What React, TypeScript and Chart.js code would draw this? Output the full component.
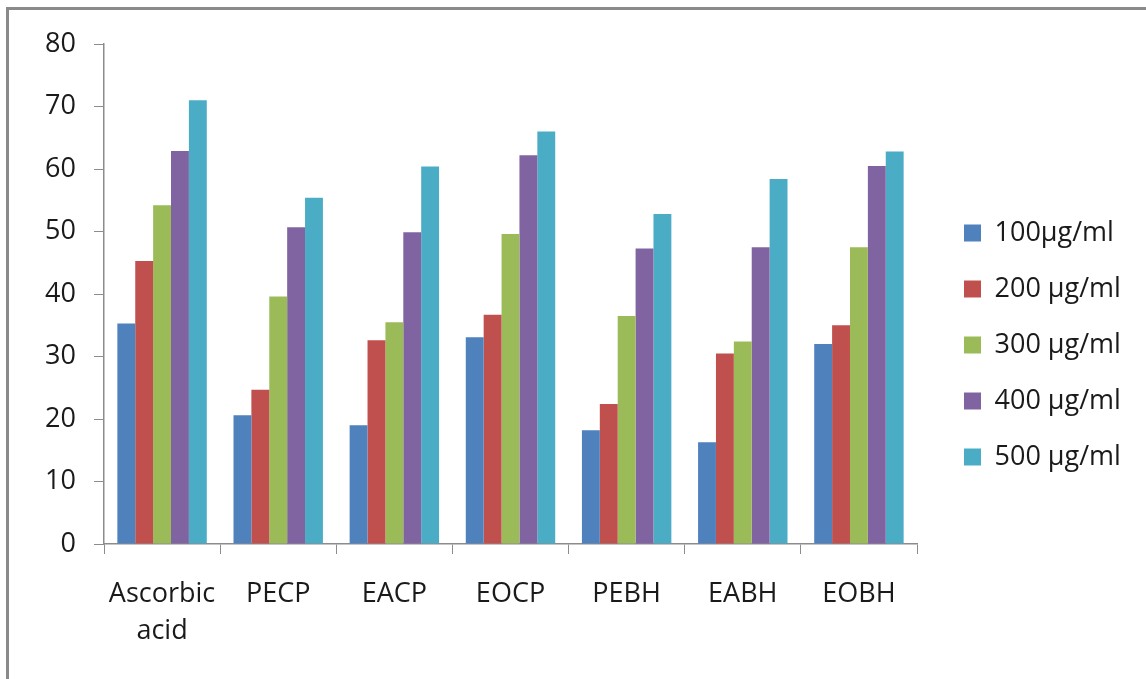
// Bar chart: percentage activity by extract and concentration (Excel 2007 look).

import { useEffect, useRef } from 'react';
import { Chart, registerables } from 'chart.js';
import type { ChartConfiguration } from 'chart.js';

Chart.register(...registerables);

const categories = [['Ascorbic', 'acid'], 'PECP', 'EACP', 'EOCP', 'PEBH', 'EABH', 'EOBH'];
const seriesNames = ['100µg/ml', '200 µg/ml', '300 µg/ml', '400 µg/ml', '500 µg/ml'];
const seriesColors = ['#4F81BD', '#C0504D', '#9BBB59', '#8064A2', '#4BACC6'];

const conc100 = [35.3, 20.6, 19.0, 33.1, 18.2, 16.3, 32.0];
const conc200 = [45.3, 24.7, 32.6, 36.7, 22.4, 30.5, 35.0];
const conc300 = [54.2, 39.6, 35.5, 49.6, 36.5, 32.4, 47.5];
const conc400 = [62.9, 50.7, 49.9, 62.2, 47.3, 47.5, 60.5];
const conc500 = [71.0, 55.4, 60.4, 66.0, 52.8, 58.4, 62.8];

const seriesValues = [conc100, conc200, conc300, conc400, conc500];

const FONT = { family: '"Open Sans", sans-serif', size: 27, lineHeight: 1.37 };
const TEXT = '#1a1a1a';
const AXIS = '#8c8c8c';

export default function App() {
  const canvasRef = useRef<HTMLCanvasElement>(null);

  useEffect(() => {
    const canvas = canvasRef.current;
    if (!canvas) return;

    const config: ChartConfiguration<'bar'> = {
      type: 'bar',
      data: {
        labels: categories as any,
        datasets: seriesNames.map((name, i) => ({
          label: name,
          data: seriesValues[i],
          backgroundColor: seriesColors[i],
          borderWidth: 0,
          categoryPercentage: 0.77,
          barPercentage: 1.0,
        })),
      },
      options: {
        responsive: false,
        animation: false,
        devicePixelRatio: 1,
        layout: { padding: { top: 44, bottom: 33, left: 10, right: 26 } },
        plugins: {
          legend: {
            position: 'right',
            labels: {
              color: TEXT,
              font: { family: FONT.family, size: 27 },
              boxWidth: 17,
              boxHeight: 17,
              padding: 29,
            },
          },
          tooltip: { enabled: false },
        },
        scales: {
          x: {
            grid: {
              display: true,
              drawOnChartArea: false,
              drawTicks: true,
              tickLength: 10,
              color: AXIS,
              offset: true,
            },
            border: { color: AXIS, width: 1.5 },
            ticks: { color: TEXT, font: FONT, padding: 22, maxRotation: 0 },
            afterFit: (s: any) => {
              s.height = 102;
            },
          },
          y: {
            min: 0,
            max: 80,
            ticks: { stepSize: 10, color: TEXT, font: { family: FONT.family, size: 27 }, padding: 18 },
            grid: { display: true, drawOnChartArea: false, tickLength: 10, color: AXIS },
            border: { color: AXIS, width: 1.5 },
            afterFit: (s: any) => {
              s.width = 94;
            },
          },
          // spacer between plot and legend
          gap: {
            type: 'linear',
            position: 'right',
            display: true,
            grid: { display: false },
            ticks: { display: false },
            border: { display: false },
            afterFit: (s: any) => {
              s.width = 18;
            },
          },
        },
      },
    };

    const chart = new Chart(canvas, config);
    return () => chart.destroy();
  }, []);

  return (
    <div style={{ position: 'fixed', left: 0, top: 0, width: 1146, height: 679, background: '#fff', overflow: 'hidden' }}>
      <div
        style={{
          position: 'absolute',
          left: 6,
          top: 7,
          width: 1200,
          height: 720,
          border: '3px solid #8a8a8a',
          boxSizing: 'border-box',
        }}
      />
      <canvas ref={canvasRef} width={1146} height={679} style={{ position: 'absolute', left: 0, top: 0 }} />
    </div>
  );
}
